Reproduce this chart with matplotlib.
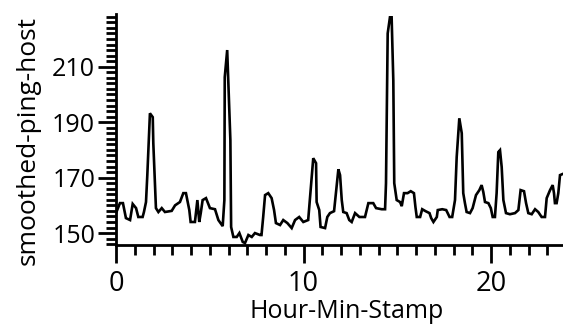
import matplotlib
matplotlib.use("Agg")
import matplotlib.pyplot as plt
from matplotlib.ticker import MultipleLocator

plt.rcParams['font.family'] = ['Open Sans', 'DejaVu Sans']

hours = [0.00, 0.21, 0.37, 0.53, 0.75, 0.89, 1.07, 1.19, 1.42, 1.49, 1.60, 1.67, 1.81, 1.96, 1.99,
         2.13, 2.26, 2.44, 2.61, 2.97, 3.15, 3.41, 3.59, 3.73, 3.91, 3.98, 4.21, 4.34, 4.44, 4.52,
         4.62, 4.80, 5.01, 5.28, 5.46, 5.69, 5.78, 5.80, 5.93, 6.10, 6.14, 6.26, 6.44, 6.58, 6.76,
         6.88, 7.06, 7.24, 7.41, 7.68, 7.76, 7.85, 7.95, 8.12, 8.30, 8.43, 8.53, 8.75, 8.92, 9.14,
         9.37, 9.55, 9.77, 9.99, 10.25, 10.38, 10.52, 10.67, 10.70, 10.84, 10.91, 11.15, 11.27,
         11.41, 11.63, 11.73, 11.86, 11.95, 12.04, 12.12, 12.30, 12.44, 12.57, 12.75, 12.98, 13.28,
         13.46, 13.72, 13.87, 14.17, 14.35, 14.40, 14.49, 14.61, 14.70, 14.79, 14.84, 14.97, 15.15,
         15.24, 15.36, 15.55, 15.72, 15.89, 15.97, 16.04, 16.22, 16.33, 16.51, 16.72, 16.81, 16.93,
         17.11, 17.16, 17.40, 17.61, 17.79, 17.93, 18.08, 18.17, 18.31, 18.44, 18.52, 18.61, 18.70,
         18.88, 19.02, 19.20, 19.38, 19.50, 19.59, 19.68, 19.86, 19.99, 20.09, 20.21, 20.30, 20.39,
         20.48, 20.57, 20.66, 20.80, 21.01, 21.28, 21.46, 21.58, 21.76, 21.87, 21.99, 22.17, 22.35,
         22.52, 22.70, 22.88, 22.97, 23.15, 23.29, 23.36, 23.41, 23.50, 23.59, 23.68, 23.82]

ping = [157.2, 160.8, 160.8, 155.4, 154.7, 160.5, 159.0, 155.8, 155.8, 157.6, 161.2, 170.9, 193.2, 191.8, 182.4,
        159.0, 157.6, 159.0, 157.6, 158.0, 160.0, 161.2, 164.4, 164.4, 158.3, 154.0, 154.0, 161.9, 154.0, 157.2,
        161.9, 162.6, 159.0, 158.6, 154.7, 152.5, 161.9, 206.2, 216.0, 183.5, 152.2, 148.6, 148.6, 150.0, 146.8,
        146.4, 149.3, 148.6, 150.0, 149.3, 149.3, 155.8, 163.7, 164.4, 162.6, 158.3, 153.6, 152.9, 154.7, 153.6,
        151.8, 154.7, 155.8, 154.0, 154.7, 165.5, 177.0, 175.2, 161.2, 158.3, 152.2, 151.8, 155.8,
        157.2, 157.9, 164.4, 173.0, 170.9, 161.9, 157.6, 157.2, 154.7, 154.0, 157.2, 155.8, 155.8,
        160.8, 160.8, 159.0, 158.6, 158.6, 168.0, 222.0, 227.8, 227.8, 205.0, 168.0, 161.9, 161.2,
        159.7, 164.4, 164.4, 165.1, 164.4, 159.4, 155.8, 155.8, 158.6, 157.9, 157.2, 155.4, 154.0,
        155.8, 158.3, 158.6, 158.3, 155.8, 155.8, 161.9, 177.4, 191.4, 186.0, 164.4, 160.8, 157.6,
        157.2, 159.0, 163.7, 165.5, 167.3, 164.8, 161.2, 160.8, 159.0, 155.8, 155.8, 164.4, 179.2,
        179.9, 173.8, 161.9, 157.2, 156.8, 157.2, 158.3, 165.5, 165.1, 160.8, 157.2, 156.8, 158.6,
        157.6, 155.8, 155.8, 162.6, 165.5, 167.3, 164.4, 160.8, 160.8, 164.4, 170.9, 171.3]

y_major = [150, 170, 190, 210]
x_major = [0, 10, 20]

fig = plt.figure(figsize=(5.63, 3.24), dpi=100)
ax = fig.add_axes([116 / 563, 79 / 324, 447 / 563, 231 / 324])
ax.plot(hours, ping, color='black', linewidth=1.9, solid_joinstyle='miter')

ax.set_xlim(0, 23.84)
ax.set_ylim(145.7, 229)
ax.set_xticks(x_major)
ax.set_yticks(y_major)
ax.xaxis.set_minor_locator(MultipleLocator(1))
ax.yaxis.set_minor_locator(MultipleLocator(2))

for s in ['top', 'right']:
    ax.spines[s].set_visible(False)
for s in ['left', 'bottom']:
    ax.spines[s].set_linewidth(2)
    ax.spines[s].set_color('black')

ax.tick_params(axis='both', which='major', length=13, width=2, color='black', pad=2)
ax.tick_params(axis='both', which='minor', length=7, width=2, color='black')
ax.tick_params(axis='y', which='major', labelsize=18)
ax.tick_params(axis='x', which='major', labelsize=19.5, pad=5)

ax.set_xlabel('Hour-Min-Stamp', fontsize=18, va='center')
ax.xaxis.set_label_coords(0.516, -0.29)
ax.set_ylabel('smoothed-ping-host', fontsize=19, va='center')
ax.yaxis.set_label_coords(-0.197, 0.4545)

fig.savefig('out.png', dpi=100)
